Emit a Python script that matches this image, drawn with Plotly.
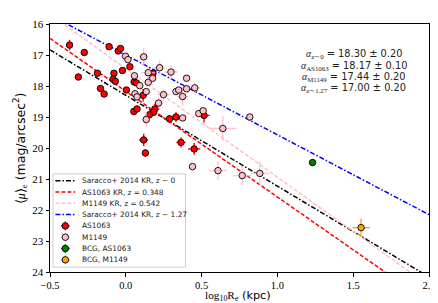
import plotly.graph_objects as go

# ---------------- data ----------------
kr_names = ["Saracco+ 2014 KR, z ∼ 0", "AS1063 KR, z = 0.348",
            "M1149 KR, z = 0.542", "Saracco+ 2014 KR, z ∼ 1.27"]
kr_alpha = [18.30, 18.17, 17.44, 17.00]
kr_slope = [2.93, 3.41, 3.50, 2.575]
kr_colors = ["black", "red", "pink", "blue"]
kr_dash = ["5px,2px,1.5px,2px", "4px,2px", "4px,2px", "5px,2px,1.5px,2px"]
kr_xrange = [-0.5, 2.0]

as_logre = [-0.371, -0.313, -0.274, -0.187, -0.167, -0.143, -0.110, -0.078, -0.084, -0.069,
            -0.050, -0.035, -0.022, 0.004, 0.027, 0.055, 0.070, 0.053, 0.074, 0.114,
            0.179, 0.192, 0.183, 0.155, 0.288, 0.331, 0.516, 0.118, 0.129, 0.364, 0.451]
as_mu = [16.68, 17.71, 16.92, 17.59, 18.08, 18.26, 16.73, 17.59, 17.78, 17.85,
         16.87, 16.79, 17.50, 18.13, 17.38, 17.87, 17.90, 18.82, 18.74, 18.30,
         17.59, 18.74, 18.85, 18.93, 19.06, 19.00, 18.95, 19.74, 20.16, 19.82, 20.03]
as_xerr = [0.015, 0.01, 0.01, 0.01, 0.01, 0.01, 0.01, 0.01, 0.01, 0.01,
           0.01, 0.01, 0.01, 0.01, 0.01, 0.015, 0.015, 0.01, 0.01, 0.025,
           0.02, 0.03, 0.02, 0.02, 0.035, 0.03, 0.037, 0.03, 0.015, 0.03, 0.04]
as_yerr = [0.17, 0.05, 0.08, 0.08, 0.05, 0.05, 0.08, 0.08, 0.05, 0.05,
           0.08, 0.08, 0.08, 0.05, 0.08, 0.10, 0.10, 0.08, 0.08, 0.20,
           0.12, 0.16, 0.10, 0.10, 0.12, 0.15, 0.23, 0.20, 0.12, 0.16, 0.19]

m_logre = [-0.002, 0.014, 0.118, 0.148, 0.223, 0.298, 0.401, 0.057, 0.092, 0.148,
           0.177, 0.061, 0.074, 0.135, 0.249, 0.331, 0.349, 0.375, 0.401, 0.455,
           0.216, 0.135, 0.375, 0.481, 0.510, 0.640, 0.818, 0.440, 0.608, 0.768, 0.884]
m_mu = [17.04, 17.15, 17.06, 17.57, 17.41, 17.55, 17.75, 17.67, 17.99, 17.88,
        17.75, 18.25, 18.35, 18.18, 18.28, 18.18, 18.13, 18.34, 18.09, 18.06,
        18.55, 19.08, 19.03, 18.89, 18.80, 19.37, 19.00, 20.60, 20.73, 20.89, 20.82]
m_xerr = [0.01, 0.01, 0.03, 0.045, 0.04, 0.045, 0.02, 0.015, 0.015, 0.02,
          0.02, 0.015, 0.015, 0.02, 0.04, 0.02, 0.02, 0.035, 0.02, 0.035,
          0.03, 0.025, 0.015, 0.02, 0.02, 0.09, 0.01, 0.01, 0.06, 0.06, 0.06]
m_yerr = [0.06, 0.06, 0.30, 0.20, 0.23, 0.23, 0.10, 0.08, 0.08, 0.10,
          0.10, 0.10, 0.10, 0.10, 0.18, 0.10, 0.10, 0.30, 0.10, 0.15,
          0.18, 0.25, 0.08, 0.08, 0.10, 0.40, 0.05, 0.05, 0.30, 0.30, 0.37]

bcg_as_logre, bcg_as_mu, bcg_as_xerr, bcg_as_yerr = [1.232], [20.47], [0.02], [0.10]
bcg_m_logre, bcg_m_mu, bcg_m_xerr, bcg_m_yerr = [1.552], [22.57], [0.057], [0.29]

pt_names = ["AS1063", "M1149", "BCG, AS1063", "BCG, M1149"]
pt_colors = ["red", "pink", "green", "orange"]

alpha_labels = ["z∼0", "AS1063", "M1149", "z∼1.27"]
alpha_vals = ["18.30 ± 0.20", "18.17 ± 0.10", "17.44 ± 0.20", "17.00 ± 0.20"]

x_ticks = [-0.5, 0.0, 0.5, 1.0, 1.5, 2.0]
y_ticks = [16, 17, 18, 19, 20, 21, 22, 23, 24]

# ---------------- figure ----------------
fig = go.Figure()

for name, a, b, c, d in zip(kr_names, kr_alpha, kr_slope, kr_colors, kr_dash):
    fig.add_trace(go.Scatter(x=kr_xrange, y=[a + b * x for x in kr_xrange], mode="lines",
                             line=dict(color=c, dash=d, width=1.5), showlegend=False,
                             hoverinfo="skip"))

def pts(x, y, xe, ye, color, ecolor):
    fig.add_trace(go.Scatter(
        x=x, y=y, mode="markers", showlegend=False,
        marker=dict(size=6.5, color=color, line=dict(color="black", width=0.9)),
        error_x=dict(type="data", array=xe, color=ecolor, thickness=1.4, width=0),
        error_y=dict(type="data", array=ye, color=ecolor, thickness=1.4, width=0)))

pts(as_logre, as_mu, as_xerr, as_yerr, pt_colors[0], pt_colors[0])
pts(m_logre, m_mu, m_xerr, m_yerr, pt_colors[1], "rgba(255,182,193,0.8)")
pts(bcg_as_logre, bcg_as_mu, bcg_as_xerr, bcg_as_yerr, pt_colors[2], pt_colors[2])
pts(bcg_m_logre, bcg_m_mu, bcg_m_xerr, bcg_m_yerr, pt_colors[3], pt_colors[3])

# ---------------- manual legend on pixel overlay axes ----------------
row_y = [170.3 + 11.6 * i for i in range(8)]
annots = []
for i, (name, c, d) in enumerate(zip(kr_names, kr_colors, kr_dash)):
    fig.add_trace(go.Scatter(x=[47.5, 67.5], y=[row_y[i], row_y[i]], xaxis="x2", yaxis="y2",
                             mode="lines", line=dict(color=c, dash=d, width=1.5),
                             showlegend=False, hoverinfo="skip"))
for j, (name, c) in enumerate(zip(pt_names, pt_colors)):
    i = j + 4
    fig.add_trace(go.Scatter(x=[57.5], y=[row_y[i]], xaxis="x2", yaxis="y2", mode="markers",
                             marker=dict(size=6.5, color=c, line=dict(color="black", width=0.9)),
                             error_x=dict(type="constant", value=4.5, color=c, thickness=1.4, width=0),
                             error_y=dict(type="constant", value=4.5, color=c, thickness=1.4, width=0),
                             showlegend=False, hoverinfo="skip"))
for i, name in enumerate(kr_names + pt_names):
    annots.append(dict(x=72.5, y=row_y[i], xref="x2", yref="y2", text=name, showarrow=False,
                       xanchor="left", yanchor="middle",
                       font=dict(family="DejaVu Sans", size=7.4, color="#222")))

for i, (lab, val) in enumerate(zip(alpha_labels, alpha_vals)):
    annots.append(dict(x=349, y=40.7 + 11.5 * i, xref="x2", yref="y2",
                       text="<span style='font-family:Liberation Serif'><i>α</i><sub>%s</sub></span> = %s" % (lab, val),
                       showarrow=False, xanchor="center", yanchor="middle",
                       font=dict(family="DejaVu Sans", size=9.8, color="#222")))

# axis titles (paper coordinates)
annots.append(dict(x=0.497, y=-0.097, xref="paper", yref="paper", xanchor="center", yanchor="middle",
                   showarrow=False,
                   text="<span style='font-family:Liberation Serif'>log<sub>10</sub>R<sub>e</sub></span> (kpc)",
                   font=dict(family="DejaVu Sans", size=11.3, color="black")))
annots.append(dict(x=-0.078, y=0.5, xref="paper", yref="paper", xanchor="center", yanchor="middle",
                   showarrow=False, textangle=-90,
                   text="<span style='font-family:Liberation Serif'>⟨<i>μ</i>⟩<sub>e</sub></span> (mag/arcsec<sup>2</sup>)",
                   font=dict(family="DejaVu Sans", size=12.5, color="black")))

fig.update_layout(
    width=438, height=303,
    margin=dict(l=42, r=13, t=10, b=39),
    paper_bgcolor="white", plot_bgcolor="white",
    showlegend=False,
    font=dict(family="Liberation Serif", color="black"),
    xaxis=dict(range=[-0.5, 2.0], tickvals=x_ticks, tickformat=".1f", showgrid=False, zeroline=False,
               showline=True, mirror=True, linecolor="black", linewidth=1,
               ticks="outside", ticklen=3.5, tickcolor="black",
               tickfont=dict(family="Liberation Serif", size=10.5)),
    yaxis=dict(range=[24, 16], tickvals=y_ticks, showgrid=False, zeroline=False,
               showline=True, mirror=True, linecolor="black", linewidth=1,
               ticks="outside", ticklen=3.5, tickcolor="black",
               tickfont=dict(family="Liberation Serif", size=11)),
    xaxis2=dict(range=[42, 425], overlaying="x", visible=False, fixedrange=True),
    yaxis2=dict(range=[264, 9.5], overlaying="y", visible=False, fixedrange=True),
    shapes=[dict(type="rect", xref="x2", yref="y2", x0=45, x1=179, y0=163.3, y1=259,
                 line=dict(color="#cccccc", width=1), fillcolor="rgba(255,255,255,0.8)", layer="below")],
    annotations=annots,
)

fig.write_html("out.html")
